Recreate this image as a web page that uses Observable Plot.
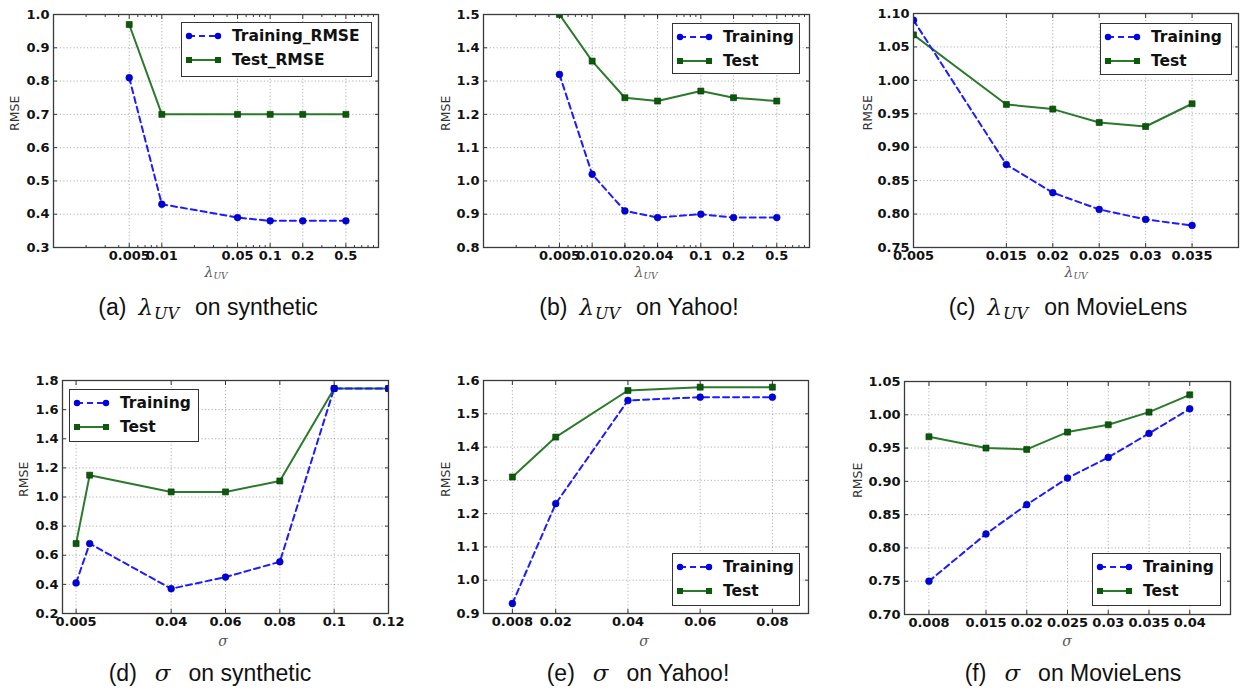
<!DOCTYPE html>
<html><head><meta charset="utf-8">
<script src="https://cdn.jsdelivr.net/npm/d3@7"></script>
<script src="https://cdn.jsdelivr.net/npm/@observablehq/plot@0.6"></script>
<style>
body{margin:0;background:#fff;}
#fig{position:relative;width:1244px;height:695px;overflow:hidden;background:#fff;}
.panel{position:absolute;}
.legend{position:absolute;border:1px solid #333;background:#fff;box-sizing:border-box;font:bold 15.5px "DejaVu Sans";color:#111;}
.lrow{position:absolute;left:0;height:20px;line-height:20px;white-space:nowrap;}
.lrow svg{position:absolute;top:4px;}
.lrow span{position:absolute;top:0;}
.caption{position:absolute;font:23px "Liberation Sans";line-height:24px;height:24px;color:#111;white-space:nowrap;transform:translateX(-50%);display:flex;align-items:baseline;}
.caption .m{font-family:"DejaVu Serif";font-style:italic;font-size:23px;}
.caption .s{font-family:"DejaVu Serif";font-style:italic;font-size:16px;position:relative;top:4px;margin-left:1px;}
.xlab{position:absolute;font:italic 14px "DejaVu Serif";line-height:14px;color:#555;transform:translateX(-50%);white-space:nowrap;}
.xlab sub{font-size:9px;vertical-align:-2px;line-height:0;}
.clip{position:absolute;overflow:hidden;left:0;width:1244px;}
</style></head><body><div id="fig"></div><script>
// ---------- data ----------
// (a) lambda_UV on synthetic
const xA = [0.005, 0.01, 0.05, 0.1, 0.2, 0.5];
const trainA = [0.81, 0.43, 0.39, 0.38, 0.38, 0.38];
const testA = [0.97, 0.70, 0.70, 0.70, 0.70, 0.70];
const xTicksA = [0.005, 0.01, 0.05, 0.1, 0.2, 0.5];
const xLabelsA = ["0.005", "0.01", "0.05", "0.1", "0.2", "0.5"];
const yTicksA = [0.3, 0.4, 0.5, 0.6, 0.7, 0.8, 0.9, 1.0];
const yLabelsA = ["0.3", "0.4", "0.5", "0.6", "0.7", "0.8", "0.9", "1.0"];
// (b) lambda_UV on Yahoo!
const xB = [0.005, 0.01, 0.02, 0.04, 0.1, 0.2, 0.5];
const trainB = [1.32, 1.02, 0.91, 0.89, 0.90, 0.89, 0.89];
const testB = [1.50, 1.36, 1.25, 1.24, 1.27, 1.25, 1.24];
const xTicksB = [0.005, 0.01, 0.02, 0.04, 0.1, 0.2, 0.5];
const xLabelsB = ["0.005", "0.01", "0.02", "0.04", "0.1", "0.2", "0.5"];
const yTicksB = [0.8, 0.9, 1.0, 1.1, 1.2, 1.3, 1.4, 1.5];
const yLabelsB = ["0.8", "0.9", "1.0", "1.1", "1.2", "1.3", "1.4", "1.5"];
// (c) lambda_UV on MovieLens
const xC = [0.005, 0.015, 0.02, 0.025, 0.03, 0.035];
const trainC = [1.09, 0.874, 0.832, 0.807, 0.792, 0.783];
const testC = [1.068, 0.964, 0.957, 0.937, 0.931, 0.965];
const xTicksC = [0.005, 0.015, 0.02, 0.025, 0.03, 0.035];
const xLabelsC = ["0.005", "0.015", "0.02", "0.025", "0.03", "0.035"];
const yTicksC = [0.75, 0.80, 0.85, 0.90, 0.95, 1.00, 1.05, 1.10];
const yLabelsC = ["0.75", "0.80", "0.85", "0.90", "0.95", "1.00", "1.05", "1.10"];
// (d) sigma on synthetic
const xD = [0.005, 0.01, 0.04, 0.06, 0.08, 0.1, 0.12];
const trainD = [0.41, 0.68, 0.37, 0.45, 0.555, 1.745, 1.745];
const testD = [0.68, 1.15, 1.035, 1.035, 1.11, 1.745, 1.745];
const xTicksD = [0.005, 0.04, 0.06, 0.08, 0.1, 0.12];
const xLabelsD = ["0.005", "0.04", "0.06", "0.08", "0.1", "0.12"];
const yTicksD = [0.2, 0.4, 0.6, 0.8, 1.0, 1.2, 1.4, 1.6, 1.8];
const yLabelsD = ["0.2", "0.4", "0.6", "0.8", "1.0", "1.2", "1.4", "1.6", "1.8"];
// (e) sigma on Yahoo!
const xE = [0.008, 0.02, 0.04, 0.06, 0.08];
const trainE = [0.93, 1.23, 1.54, 1.55, 1.55];
const testE = [1.31, 1.43, 1.57, 1.58, 1.58];
const xTicksE = [0.008, 0.02, 0.04, 0.06, 0.08];
const xLabelsE = ["0.008", "0.02", "0.04", "0.06", "0.08"];
const yTicksE = [0.9, 1.0, 1.1, 1.2, 1.3, 1.4, 1.5, 1.6];
const yLabelsE = ["0.9", "1.0", "1.1", "1.2", "1.3", "1.4", "1.5", "1.6"];
// (f) sigma on MovieLens
const xF = [0.008, 0.015, 0.02, 0.025, 0.03, 0.035, 0.04];
const trainF = [0.75, 0.821, 0.865, 0.905, 0.936, 0.972, 1.009];
const testF = [0.967, 0.950, 0.948, 0.974, 0.985, 1.004, 1.030];
const xTicksF = [0.008, 0.015, 0.02, 0.025, 0.03, 0.035, 0.04];
const xLabelsF = ["0.008", "0.015", "0.02", "0.025", "0.03", "0.035", "0.04"];
const yTicksF = [0.70, 0.75, 0.80, 0.85, 0.90, 0.95, 1.00, 1.05];
const yLabelsF = ["0.70", "0.75", "0.80", "0.85", "0.90", "0.95", "1.00", "1.05"];
// minor ticks of the log axes
const logMinor = [0.002,0.003,0.004,0.006,0.007,0.008,0.009,0.02,0.03,0.04,0.06,0.07,0.08,0.09,0.3,0.4,0.6,0.7,0.8,0.9];
// caption texts
const captionLabels = ["(a)", "(b)", "(c)", "(d)", "(e)", "(f)"];
const captionTails = ["on synthetic", "on Yahoo!", "on MovieLens", "on synthetic", "on Yahoo!", "on MovieLens"];

// ---------- layout / style ----------
const BLUE = "#1c1cff", BLUE_DOT = "#0000dd", GREEN = "#2b7a2b", GREEN_DOT = "#0b5a0b";
const panels = [
  {x:xA, tr:trainA, te:testA, xt:xTicksA, xl:xLabelsA, yt:yTicksA, yl:yLabelsA, xtype:"log", xdom:[0.001,1], minor:logMinor,
   left:0, top:0, w:400, h:290, ml:53, mr:22, mt:14, mb:43, ydx:-39,
   leg:{l:181, t:22, w:191, h:55, names:["Training_RMSE","Test_RMSE"]}, xlab:"lambda", xlx:216, xly:265,
   cap:{x:208, y:295, sym:"lambda"}},
  {x:xB, tr:trainB, te:testB, xt:xTicksB, xl:xLabelsB, yt:yTicksB, yl:yLabelsB, xtype:"log", xdom:[0.001,1], minor:logMinor,
   left:420, top:0, w:410, h:290, ml:63, mr:21, mt:14, mb:43, ydx:-38,
   leg:{l:672, t:23, w:128, h:51, names:["Training","Test"]}, xlab:"lambda", xlx:646, xly:265,
   cap:{x:639, y:295, sym:"lambda"}},
  {x:xC, tr:trainC, te:testC, xt:xTicksC, xl:xLabelsC, yt:yTicksC, yl:yLabelsC, xtype:"linear", xdom:[0.005,0.04], minor:[],
   left:830, top:0, w:414, h:290, ml:83, mr:6, mt:13, mb:43, ydx:-46,
   leg:{l:1100, t:23, w:132, h:52, names:["Training","Test"]}, xlab:"lambda", xlx:1076, xly:265,
   cap:{x:1068, y:295, sym:"lambda"}},
  {x:xD, tr:trainD, te:testD, xt:xTicksD, xl:xLabelsD, yt:yTicksD, yl:yLabelsD, xtype:"linear", xdom:[0,0.12], minor:[],
   left:0, top:360, w:400, h:290, ml:62, mr:12, mt:20, mb:37, ydx:-39,
   leg:{l:69, t:389, w:130, h:53, names:["Training","Test"]}, xlab:"sigma", xlx:223, xly:634,
   cap:{x:210, y:661, sym:"sigma"}},
  {x:xE, tr:trainE, te:testE, xt:xTicksE, xl:xLabelsE, yt:yTicksE, yl:yLabelsE, xtype:"linear", xdom:[0,0.09], minor:[],
   left:420, top:360, w:410, h:290, ml:63, mr:22, mt:20, mb:37, ydx:-38,
   leg:{l:672, t:553, w:128, h:53, names:["Training","Test"]}, xlab:"sigma", xlx:644, xly:634,
   cap:{x:638, y:661, sym:"sigma"}},
  {x:xF, tr:trainF, te:testF, xt:xTicksF, xl:xLabelsF, yt:yTicksF, yl:yLabelsF, xtype:"linear", xdom:[0.005,0.045], minor:[],
   left:830, top:360, w:414, h:290, ml:74, mr:14, mt:21, mb:36, ydx:-47,
   leg:{l:1092, t:553, w:129, h:53, names:["Training","Test"]}, xlab:"sigma", xlx:1067, xly:634,
   cap:{x:1073, y:661, sym:"sigma"}}
];

const fig = document.getElementById("fig");

function lookup(ticks, labels) { return d => { const i = ticks.findIndex(t => Math.abs(t - d) < 1e-9); return i < 0 ? "" : labels[i]; }; }

panels.forEach((p, pi) => {
  const ydom = [p.yt[0], p.yt[p.yt.length - 1]];
  const train = p.x.map((x, i) => ({x, y: p.tr[i]}));
  const test = p.x.map((x, i) => ({x, y: p.te[i]}));
  const gridStyle = {stroke: "#000", strokeOpacity: 0.35, strokeDasharray: "1.2,2.2", strokeWidth: 0.9};
  const tickStyle = {stroke: "#222", strokeWidth: 0.9, text: () => "", label: null};
  const marks = [
    Plot.gridX(p.xt, gridStyle),
    Plot.gridY(p.yt, gridStyle),
    Plot.axisX(p.xt, {anchor: "bottom", tickSize: -4, ...tickStyle}),
    Plot.axisX(p.xt, {anchor: "top", tickSize: -4, ...tickStyle}),
    Plot.axisY(p.yt, {anchor: "left", tickSize: -4, ...tickStyle}),
    Plot.axisY(p.yt, {anchor: "right", tickSize: -4, ...tickStyle}),
  ];
  if (p.minor.length) {
    marks.push(Plot.axisX(p.minor, {anchor: "bottom", tickSize: -2, ...tickStyle}));
    marks.push(Plot.axisX(p.minor, {anchor: "top", tickSize: -2, ...tickStyle}));
  }
  const fx = lookup(p.xt, p.xl), fy = lookup(p.yt, p.yl);
  marks.push(
    Plot.axisX(p.xt, {anchor: "bottom", tickSize: 0, tickPadding: 3, text: d => fx(d), tickFormat: fx, fill: "#111", label: null}),
    Plot.axisY(p.yt, {anchor: "left", tickSize: 0, tickPadding: 4, text: d => fy(d), tickFormat: fy, fill: "#111", label: null}),
    Plot.line(test, {x: "x", y: "y", stroke: GREEN, strokeWidth: 2, clip: true}),
    Plot.dot(test, {x: "x", y: "y", symbol: "square", r: 3.4, fill: GREEN_DOT, stroke: "#063806", strokeWidth: 0.6, clip: true}),
    Plot.line(train, {x: "x", y: "y", stroke: BLUE, strokeWidth: 2, strokeDasharray: "6,4", clip: true}),
    Plot.dot(train, {x: "x", y: "y", r: 3.4, fill: BLUE_DOT, stroke: "#0000aa", strokeWidth: 0.6, clip: true}),
    Plot.frame({stroke: "#3a3a3a", strokeWidth: 1.3}),
    Plot.text(["RMSE"], {frameAnchor: "left", dx: p.ydx, rotate: -90, fontSize: 12.5, fontWeight: "normal", fill: "#333", fontFamily: "DejaVu Sans"})
  );
  const svg = Plot.plot({
    width: p.w, height: p.h,
    marginLeft: p.ml, marginRight: p.mr, marginTop: p.mt, marginBottom: p.mb,
    x: {type: p.xtype, domain: p.xdom},
    y: {domain: ydom},
    style: {fontFamily: "DejaVu Sans", fontSize: "13px", fontWeight: "bold", color: "#111", background: "transparent", overflow: "visible"},
    marks
  });
  const holder = document.createElement("div");
  holder.className = "panel";
  holder.style.left = p.left + "px";
  holder.style.top = p.top + "px";
  holder.appendChild(svg);
  fig.appendChild(holder);

  // legend
  const lg = document.createElement("div");
  lg.className = "legend";
  Object.assign(lg.style, {left: p.leg.l + "px", top: p.leg.t + "px", width: p.leg.w + "px", height: p.leg.h + "px"});
  const rowTop = [3, 27];
  const samples = [
    `<svg width="38" height="12"><line x1="4" y1="6" x2="33" y2="6" stroke="${BLUE}" stroke-width="2" stroke-dasharray="6,4"/><circle cx="4" cy="6" r="3.2" fill="${BLUE_DOT}"/><circle cx="33" cy="6" r="3.2" fill="${BLUE_DOT}"/></svg>`,
    `<svg width="38" height="12"><line x1="4" y1="6" x2="33" y2="6" stroke="${GREEN}" stroke-width="2"/><rect x="1" y="3" width="6" height="6" fill="${GREEN_DOT}"/><rect x="30" y="3" width="6" height="6" fill="${GREEN_DOT}"/></svg>`
  ];
  p.leg.names.forEach((name, i) => {
    const r = document.createElement("div");
    r.className = "lrow";
    r.style.top = rowTop[i] + "px";
    r.style.width = p.leg.w + "px";
    r.innerHTML = samples[i].replace("<svg", '<svg style="left:3px"') + `<span style="left:50px">${name}</span>`;
    lg.appendChild(r);
  });
  fig.appendChild(lg);

  // x label
  const xl = document.createElement("div");
  xl.className = "xlab";
  xl.innerHTML = p.xlab === "lambda" ? "λ<sub>UV</sub>" : "σ";
  if (p.top > 0) {
    const c = document.createElement("div");
    c.className = "clip";
    c.style.top = "360px"; c.style.height = "286px";
    xl.style.left = p.xlx + "px"; xl.style.top = (p.xly - 360) + "px";
    c.appendChild(xl);
    fig.appendChild(c);
  } else {
    xl.style.left = p.xlx + "px"; xl.style.top = p.xly + "px";
    fig.appendChild(xl);
  }

  // caption
  const cap = document.createElement("div");
  cap.className = "caption";
  cap.style.left = p.cap.x + "px";
  cap.style.top = p.cap.y + "px";
  const math = p.cap.sym === "lambda"
    ? `<span class="m" style="margin-left:12px">λ</span><span class="s" style="margin-right:16px">UV</span>`
    : `<span class="m" style="margin:0 18px 0 18px">σ</span>`;
  cap.innerHTML = `<span>${captionLabels[pi]}</span>` + math + `<span>${captionTails[pi]}</span>`;
  fig.appendChild(cap);
});
</script></body></html>
